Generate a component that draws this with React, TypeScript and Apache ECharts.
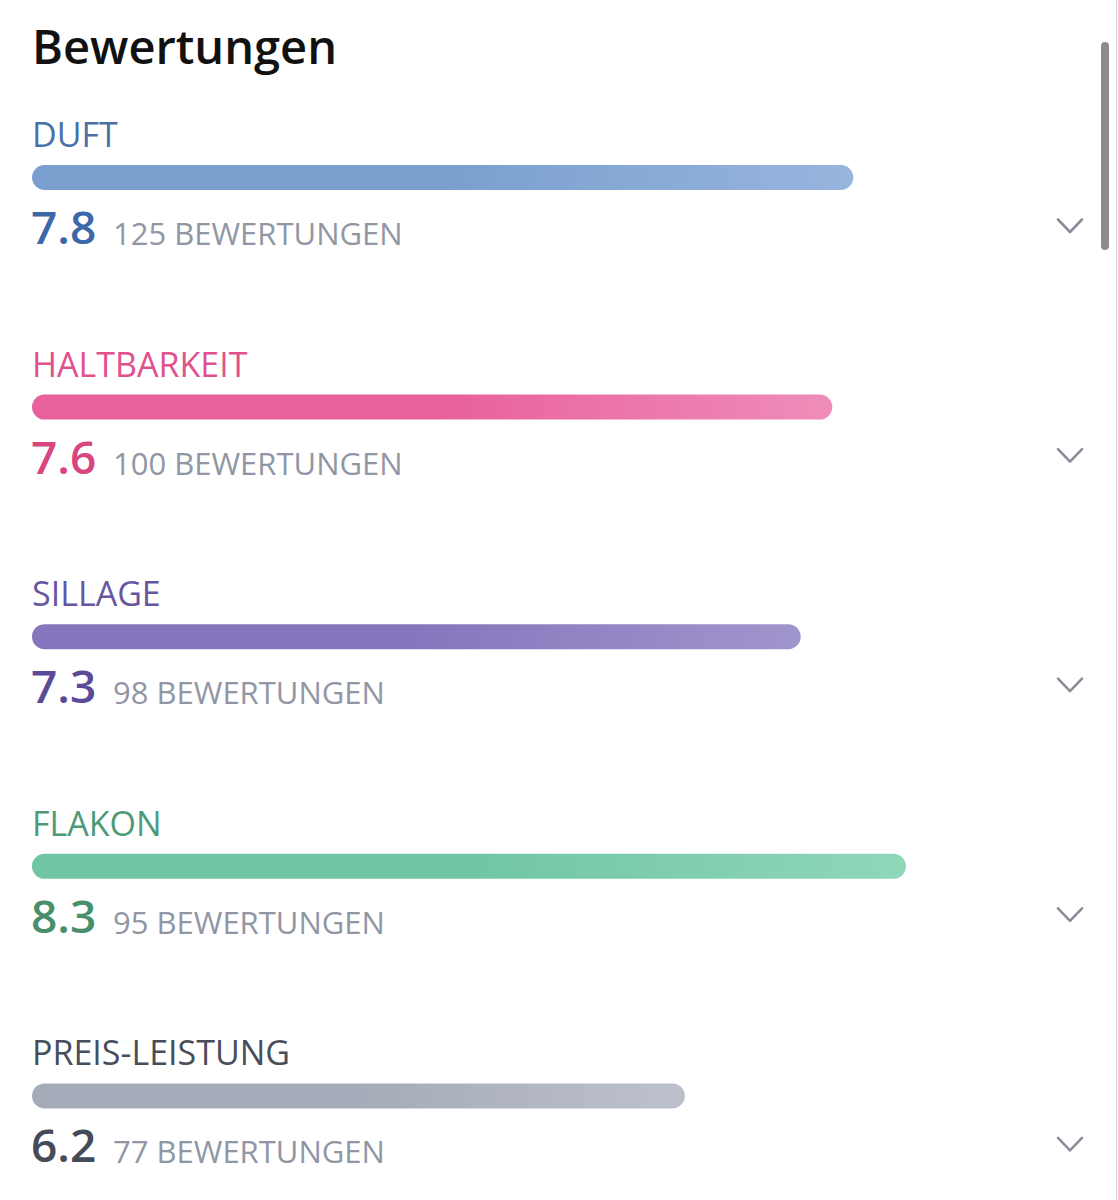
import React, { useEffect, useRef } from "react";
import * as echarts from "echarts";

// Rating categories with their average score and number of votes
const categories = ["DUFT", "HALTBARKEIT", "SILLAGE", "FLAKON", "PREIS-LEISTUNG"];
const scores = [7.8, 7.6, 7.3, 8.3, 6.2];
const ratingCounts = [125, 100, 98, 95, 77];
const scoreMax = 10;

// Per-category colours: label, score figure, bar gradient start/end
const labelColors = ["#4b70a8", "#e0528d", "#6656a0", "#4e9a78", "#474d5a"];
const valueColors = ["#3d68a8", "#d9457f", "#5a4a98", "#4a8f6c", "#454b57"];
const barStart = ["#7a9fcf", "#e8609c", "#8676bd", "#70c6a3", "#a6abb9"];
const barEnd = ["#97b5dd", "#ef8db9", "#a195cd", "#90d7ba", "#bdc1cc"];

const W = 1118;
const H = 1200;
const FONT = '"Open Sans", "Noto Sans", sans-serif';
const ROW_STEP = 229.6;
const BAR_TOP = 165;
const BAR_H = 25;
const LEFT = 32;
const RIGHT = 33;

export default function App() {
  const ref = useRef<HTMLDivElement>(null);

  useEffect(() => {
    if (!ref.current) return;
    const chart = echarts.init(ref.current, null, { renderer: "svg", width: W, height: H });

    const grids = categories.map((_, i) => ({
      left: LEFT,
      right: RIGHT,
      top: BAR_TOP + ROW_STEP * i,
      height: BAR_H,
      containLabel: false,
    }));
    const xAxes = categories.map((_, i) => ({
      type: "value",
      gridIndex: i,
      min: 0,
      max: scoreMax,
      show: false,
    }));
    const yAxes = categories.map((c, i) => ({
      type: "category",
      gridIndex: i,
      data: [c],
      show: false,
    }));
    const series = categories.map((c, i) => ({
      type: "bar",
      name: c,
      xAxisIndex: i,
      yAxisIndex: i,
      data: [scores[i]],
      barWidth: BAR_H,
      itemStyle: {
        borderRadius: BAR_H / 2,
        color: new echarts.graphic.LinearGradient(0, 0, 1, 0, [
          { offset: 0, color: barStart[i] },
          { offset: 0.5, color: barStart[i] },
          { offset: 1, color: barEnd[i] },
        ]),
      },
      silent: true,
    }));

    const texts: any[] = [
      {
        type: "text",
        x: LEFT,
        y: 46,
        style: {
          text: "Bewertungen",
          font: `600 47px ${FONT}`,
          fill: "#111111",
          textAlign: "left",
          textVerticalAlign: "middle",
        },
      },
      {
        type: "rect",
        shape: { x: 1101, y: 42, width: 8, height: 208, r: 4 },
        style: { fill: "#8c8c8c" },
      },
      {
        type: "line",
        shape: { x1: 1116.5, y1: 0, x2: 1116.5, y2: H },
        style: { stroke: "#d0d0d0", lineWidth: 1 },
      },
    ];

    categories.forEach((c, i) => {
      const off = ROW_STEP * i;
      texts.push({
        type: "text",
        x: LEFT,
        y: 134 + off,
        style: {
          text: c,
          font: `400 34px ${FONT}`,
          fill: labelColors[i],
          textAlign: "left",
          textVerticalAlign: "middle",
        },
      });
      texts.push({
        type: "text",
        x: LEFT - 1,
        y: 226 + off,
        style: {
          text: scores[i].toFixed(1),
          font: `600 46px ${FONT}`,
          fill: valueColors[i],
          textAlign: "left",
          textVerticalAlign: "middle",
        },
      });
      texts.push({
        type: "text",
        x: 113,
        y: 233 + off,
        style: {
          text: `${ratingCounts[i]} BEWERTUNGEN`,
          font: `400 31px ${FONT}`,
          fill: "#9196a4",
          textAlign: "left",
          textVerticalAlign: "middle",
        },
      });
      texts.push({
        type: "polyline",
        shape: {
          points: [
            [1058, 219.5 + off],
            [1070, 232 + off],
            [1082, 219.5 + off],
          ],
        },
        style: { stroke: "#8a8e9a", lineWidth: 2.6, fill: null, lineCap: "round", lineJoin: "round" },
      });
    });

    chart.setOption({
      animation: false,
      backgroundColor: "#ffffff",
      grid: grids,
      xAxis: xAxes,
      yAxis: yAxes,
      series,
      graphic: { elements: texts },
    });

    return () => chart.dispose();
  }, []);

  return (
    <div
      ref={ref}
      style={{ position: "absolute", left: 0, top: 0, width: W, height: H }}
    />
  );
}
